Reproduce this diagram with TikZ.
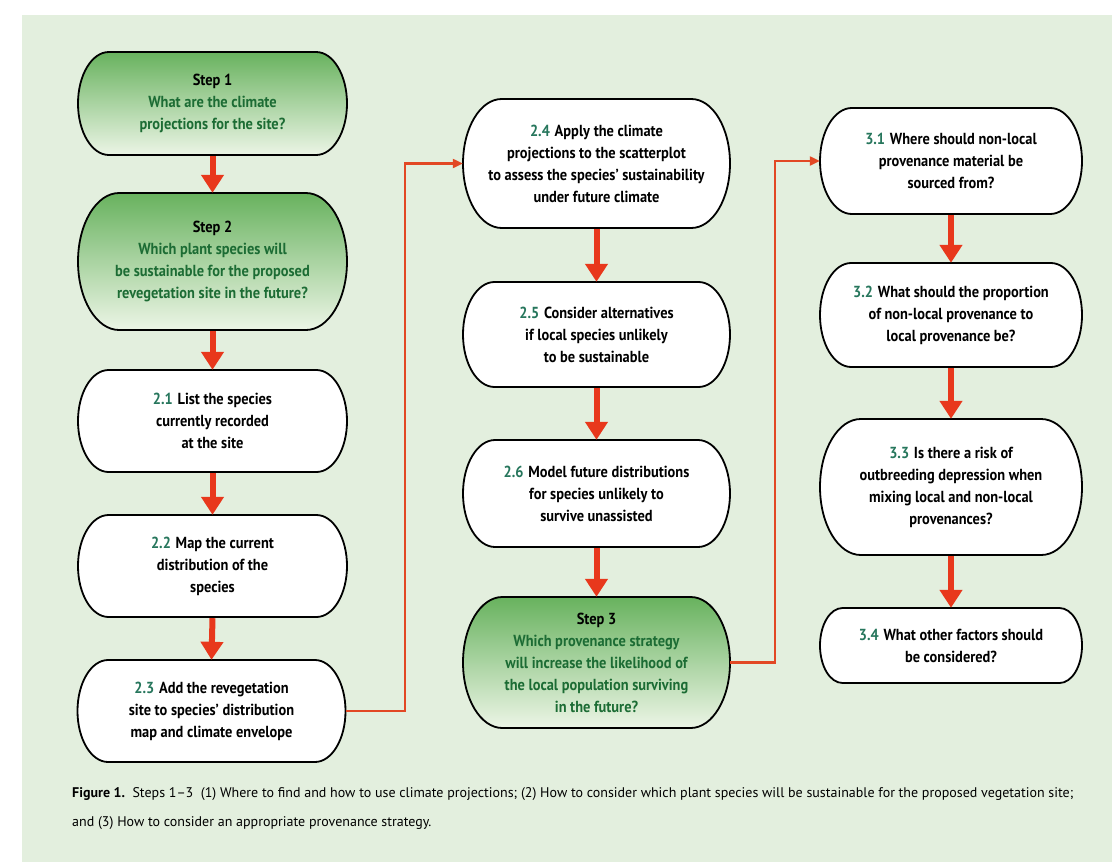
\documentclass[tikz,border=0pt]{standalone}
\usepackage{fontspec}
\setmainfont{PT Sans}
\newfontfamily\bxf{PT Sans}[FakeStretch=0.9]
\newfontfamily\capf{PT Sans}[FakeStretch=1.0]
\usetikzlibrary{arrows.meta}
\definecolor{bgc}{RGB}{227,239,222}
\definecolor{gtop}{RGB}{104,178,94}
\definecolor{gbot}{RGB}{236,245,230}
\definecolor{gtxt}{RGB}{28,108,52}
\definecolor{ntxt}{RGB}{38,118,92}
\definecolor{arrc}{RGB}{232,56,28}
\definecolor{connc}{RGB}{226,72,36}
\tikzset{
  gfill/.style={top color=gtop, bottom color=gbot},
  wfill/.style={fill=white},
  txt/.style={align=center, inner sep=0pt, font=\bxf\bfseries\fontsize{16}{22}\selectfont},
  bigarrow/.style={draw=arrc, line width=6pt, -{Triangle[width=22pt,length=18pt]}},
  connline/.style={draw=connc, line width=2.2pt, -{Triangle[width=9pt,length=10pt]}},
}
\newcommand{\stad}[7]{%
  \path[#6, draw=black, line width=1.8pt]
    ({#2-#4/2+0.3*#5},{-(#3)+#5/2}) -- ({#2+#4/2-0.3*#5},{-(#3)+#5/2})
    arc[start angle=90,end angle=-90,x radius={0.3*#5},y radius={#5/2}]
    -- ({#2-#4/2+0.3*#5},{-(#3)-#5/2})
    arc[start angle=270,end angle=90,x radius={0.3*#5},y radius={#5/2}] -- cycle;
  \node[txt, minimum width=#4pt, minimum height=#5pt] (#1) at (#2,-#3) {#7};
}
\newcommand{\stepno}[1]{\textcolor{ntxt}{#1}\hspace{0.3em}}
\newcommand{\gt}[1]{\textcolor{gtxt}{#1}}
\begin{document}
\begin{tikzpicture}[x=1pt,y=1pt]
\useasboundingbox (0,0) rectangle (1112,-862);
\fill[white] (0,0) rectangle (1112,-862);
\fill[bgc] (22,-15) rectangle (1112,-862);
% column 1
\stad{s1}{212.5}{103.5}{269}{103}{gfill}{Step 1\\\gt{What are the climate}\\\gt{projections for the site?}}
\stad{s2}{212.5}{261.5}{269}{137}{gfill}{Step 2\\\gt{Which plant species will}\\\gt{be sustainable for the proposed}\\\gt{revegetation site in the future?}}
\stad{b21}{212.5}{421}{269}{102}{wfill}{\stepno{2.1}List the species\\currently recorded\\at the site}
\stad{b22}{212.5}{566}{269}{102}{wfill}{\stepno{2.2}Map the current\\distribution of the\\species}
\stad{b23}{211.5}{711}{268}{102}{wfill}{\stepno{2.3}Add the revegetation\\site to species’ distribution\\map and climate envelope}
% column 2
\stad{b24}{596.5}{163.5}{267}{129}{wfill}{\stepno{2.4}Apply the climate\\projections to the scatterplot\\to assess the species’ sustainability\\under future climate}
\stad{b25}{596.5}{334.5}{267}{105}{wfill}{\stepno{2.5}Consider alternatives\\if local species unlikely\\to be sustainable}
\stad{b26}{596.5}{493.5}{267}{107}{wfill}{\stepno{2.6}Model future distributions\\for species unlikely to\\survive unassisted}
\stad{s3}{596.5}{662.5}{267}{131}{gfill}{Step 3\\\gt{Which provenance strategy}\\\gt{will increase the likelihood of}\\\gt{the local population surviving}\\\gt{in the future?}}
% column 3
\stad{b31}{951}{161}{262}{106}{wfill}{\stepno{3.1}Where should non-local\\provenance material be\\sourced from?}
\stad{b32}{951}{315}{262}{104}{wfill}{\stepno{3.2}What should the proportion\\of non-local provenance to\\local provenance be?}
\stad{b33}{951}{487}{262}{136}{wfill}{\stepno{3.3}Is there a risk of\\outbreeding depression when\\mixing local and non-local\\provenances?}
\stad{b34}{951}{645.5}{262}{75}{wfill}{\stepno{3.4}What other factors should\\be considered?}
% arrows
\foreach \a/\b in {s1/s2,s2/b21,b21/b22,b22/b23,b24/b25,b25/b26,b26/s3,b31/b32,b32/b33,b33/b34}
  \draw[bigarrow] ([yshift=-1pt]\a.south) -- (\b.north);
\draw[connline] (b23.east) -- ++(59,0) |- (b24.west);
\draw[connline] (s3.east) -- ++(45,0) |- (b31.west);
% caption
\node[anchor=north west, align=left, inner sep=0pt, font=\capf\fontsize{14}{29}\selectfont] (cap) at (72,-787)
  {\textbf{Figure 1.}\ \ Steps 1–3\ \ (1) Where to find and how to use climate projections; (2) How to consider which plant species will be sustainable for the proposed vegetation site;\\and (3) How to consider an appropriate provenance strategy.};
\end{tikzpicture}
\end{document}
